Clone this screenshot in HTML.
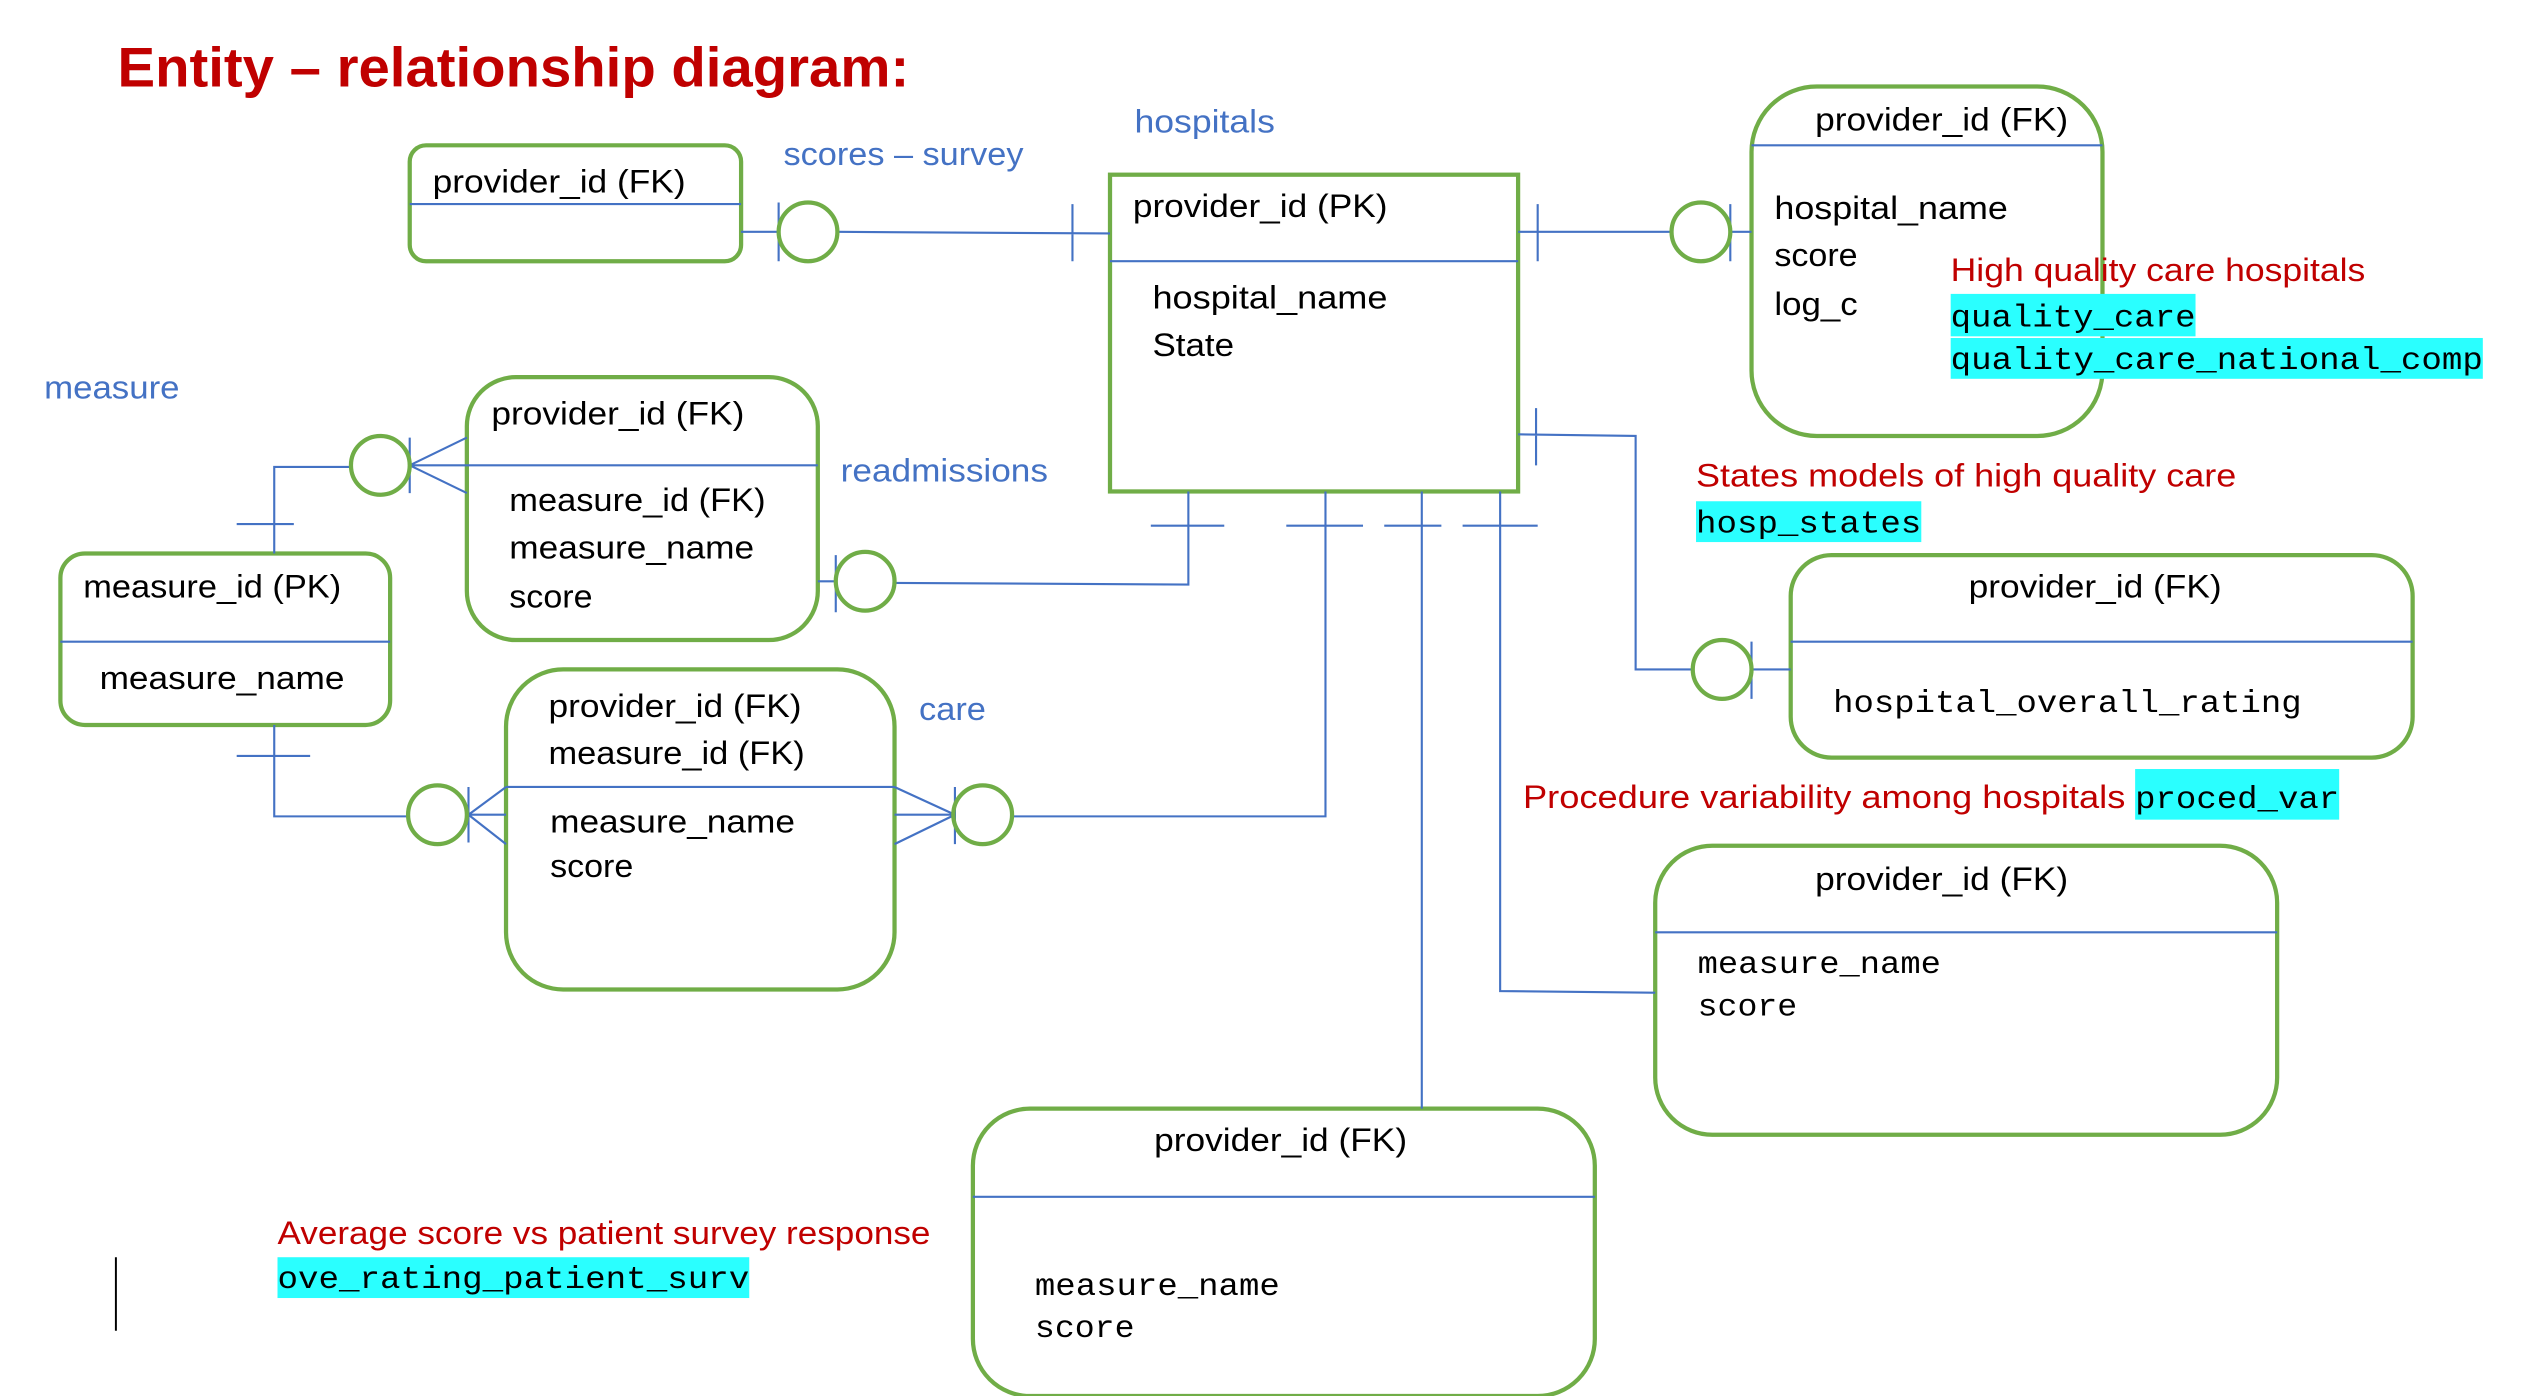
<!DOCTYPE html>
<html><head><meta charset="utf-8"><style>
html,body{margin:0;padding:0;background:#fff;}
svg{display:block;}
text{font-family:"Liberation Sans",sans-serif;font-size:20px;fill:#000;}
.m{font-family:"Liberation Mono","DejaVu Sans Mono",monospace;font-size:19px;}
.b{fill:#4472c4;}
.r{fill:#c00000;}
.g{fill:none;stroke:#70ad47;stroke-width:2.6;}
.l{fill:none;stroke:#4472c4;stroke-width:1.3;}
</style></head><body>
<svg width="2522" height="1396" viewBox="0 0 1545 855" preserveAspectRatio="none" xmlns="http://www.w3.org/2000/svg">
<text x="72" y="53" style="font-size:34px;font-weight:bold;fill:#c00000" textLength="485" lengthAdjust="spacingAndGlyphs">Entity – relationship diagram:</text>

<text class="b" x="695" y="81" textLength="86" lengthAdjust="spacingAndGlyphs">hospitals</text>
<text class="b" x="480" y="101" textLength="147" lengthAdjust="spacingAndGlyphs">scores – survey</text>
<text class="b" x="27" y="244" textLength="83" lengthAdjust="spacingAndGlyphs">measure</text>
<text class="b" x="515" y="295" textLength="127" lengthAdjust="spacingAndGlyphs">readmissions</text>
<text class="b" x="563" y="441" textLength="41" lengthAdjust="spacingAndGlyphs">care</text>

<!-- boxes -->
<rect class="g" x="251" y="89" width="203" height="71" rx="10"/>
<line class="l" x1="251" y1="125" x2="454" y2="125"/>
<text x="265" y="118" textLength="155" lengthAdjust="spacingAndGlyphs">provider_id (FK)</text>

<rect class="g" x="680" y="107" width="250" height="194"/>
<line class="l" x1="680" y1="160" x2="930" y2="160"/>
<text x="694" y="133" textLength="156" lengthAdjust="spacingAndGlyphs">provider_id (PK)</text>
<text x="706" y="189" textLength="144" lengthAdjust="spacingAndGlyphs">hospital_name</text>
<text x="706" y="218" textLength="50" lengthAdjust="spacingAndGlyphs">State</text>

<rect class="g" x="1073" y="53" width="215" height="214" rx="40"/>
<line class="l" x1="1073" y1="89" x2="1288" y2="89"/>
<text x="1112" y="80" textLength="155" lengthAdjust="spacingAndGlyphs">provider_id (FK)</text>
<text x="1087" y="134" textLength="143" lengthAdjust="spacingAndGlyphs">hospital_name</text>
<text x="1087" y="163" textLength="51" lengthAdjust="spacingAndGlyphs">score</text>
<text x="1087" y="193" textLength="51" lengthAdjust="spacingAndGlyphs">log_c</text>

<rect class="g" x="286" y="231" width="215" height="161" rx="30"/>
<line class="l" x1="286" y1="285" x2="501" y2="285"/>
<text x="301" y="260" textLength="155" lengthAdjust="spacingAndGlyphs">provider_id (FK)</text>
<text x="312" y="313" textLength="157" lengthAdjust="spacingAndGlyphs">measure_id (FK)</text>
<text x="312" y="342" textLength="150" lengthAdjust="spacingAndGlyphs">measure_name</text>
<text x="312" y="372" textLength="51" lengthAdjust="spacingAndGlyphs">score</text>

<rect class="g" x="37" y="339" width="202" height="105" rx="15"/>
<line class="l" x1="37" y1="393" x2="239" y2="393"/>
<text x="51" y="366" textLength="158" lengthAdjust="spacingAndGlyphs">measure_id (PK)</text>
<text x="61" y="422" textLength="150" lengthAdjust="spacingAndGlyphs">measure_name</text>

<rect class="g" x="310" y="410" width="238" height="196" rx="35"/>
<line class="l" x1="310" y1="482" x2="548" y2="482"/>
<text x="336" y="439" textLength="155" lengthAdjust="spacingAndGlyphs">provider_id (FK)</text>
<text x="336" y="468" textLength="157" lengthAdjust="spacingAndGlyphs">measure_id (FK)</text>
<text x="337" y="510" textLength="150" lengthAdjust="spacingAndGlyphs">measure_name</text>
<text x="337" y="537" textLength="51" lengthAdjust="spacingAndGlyphs">score</text>

<rect class="g" x="1097" y="340" width="381" height="124" rx="25"/>
<line class="l" x1="1097" y1="393" x2="1478" y2="393"/>
<text x="1206" y="366" textLength="155" lengthAdjust="spacingAndGlyphs">provider_id (FK)</text>
<text class="m" x="1123" y="436" textLength="287" lengthAdjust="spacingAndGlyphs">hospital_overall_rating</text>

<rect class="g" x="1014" y="518" width="381" height="177" rx="35"/>
<line class="l" x1="1014" y1="571" x2="1395" y2="571"/>
<text x="1112" y="545" textLength="155" lengthAdjust="spacingAndGlyphs">provider_id (FK)</text>
<text class="m" x="1040" y="596" textLength="149" lengthAdjust="spacingAndGlyphs">measure_name</text>
<text class="m" x="1040" y="622" textLength="61" lengthAdjust="spacingAndGlyphs">score</text>

<rect class="g" x="596" y="679" width="381" height="176" rx="35"/>
<line class="l" x1="596" y1="733" x2="977" y2="733"/>
<text x="707" y="705" textLength="155" lengthAdjust="spacingAndGlyphs">provider_id (FK)</text>
<text class="m" x="634" y="793" textLength="150" lengthAdjust="spacingAndGlyphs">measure_name</text>
<text class="m" x="634" y="819" textLength="61" lengthAdjust="spacingAndGlyphs">score</text>

<!-- red notes -->
<text class="r" x="1195" y="172" textLength="254" lengthAdjust="spacingAndGlyphs">High quality care hospitals</text>
<rect x="1195" y="180" width="150" height="26" fill="#2affff"/>
<rect x="1195" y="207" width="326" height="25" fill="#2affff"/>
<text class="m" x="1195" y="200" textLength="150" lengthAdjust="spacingAndGlyphs">quality_care</text>
<text class="m" x="1195" y="226" textLength="326" lengthAdjust="spacingAndGlyphs">quality_care_national_comp</text>

<text class="r" x="1039" y="298" textLength="331" lengthAdjust="spacingAndGlyphs">States models of  high quality care</text>
<rect x="1039" y="307" width="138" height="25" fill="#2affff"/>
<text class="m" x="1039" y="326" textLength="138" lengthAdjust="spacingAndGlyphs">hosp_states</text>

<text class="r" x="933" y="495" textLength="369" lengthAdjust="spacingAndGlyphs">Procedure variability among  hospitals</text>
<rect x="1308" y="471" width="125" height="31" fill="#2affff"/>
<text class="m" x="1308" y="495" textLength="125" lengthAdjust="spacingAndGlyphs">proced_var</text>

<text class="r" x="170" y="762" textLength="400" lengthAdjust="spacingAndGlyphs">Average score vs patient survey response</text>
<rect x="170" y="770" width="289" height="25" fill="#2affff"/>
<text class="m" x="170" y="789" textLength="289" lengthAdjust="spacingAndGlyphs">ove_rating_patient_surv</text>
<line x1="71" y1="770" x2="71" y2="815" stroke="#000" stroke-width="1.2"/>

<!-- connectors -->
<g class="l">
<path d="M454 142H477M513 142L680 143M477 124V160M657 125V160"/>
<path d="M930 142H1024M942 125V160M1060 125V160M1060 142H1073"/>
<path d="M930 266L1002 267V410H1037M941 250V285M1073 393V428M1073 410H1097"/>
<path d="M705 322H750M788 322H835M848 322H883M896 322H942"/>
<path d="M728 301V358L548 357M512 340V375M501 356H512"/>
<path d="M812 301V500H620"/>
<path d="M871 301V679"/>
<path d="M919 301V607L1014 608"/>
<path d="M168 339V286H215M145 321H180M251 268V302M251 285L286 268M251 285H286M251 285L286 302"/>
<path d="M168 444V500H250M145 463H190M287 482V516M287 499L310 482M287 499H310M287 499L310 517"/>
<path d="M548 482L585 499M548 499H585M548 517L585 499M585 482V517"/>
</g>
<g class="g">
<circle cx="495" cy="142" r="18"/>
<circle cx="1042" cy="142" r="18"/>
<circle cx="1055" cy="410" r="18"/>
<circle cx="530" cy="356" r="18"/>
<circle cx="233" cy="285" r="18"/>
<circle cx="268" cy="499" r="18"/>
<circle cx="602" cy="499" r="18"/>
</g>
</svg>
</body></html>
